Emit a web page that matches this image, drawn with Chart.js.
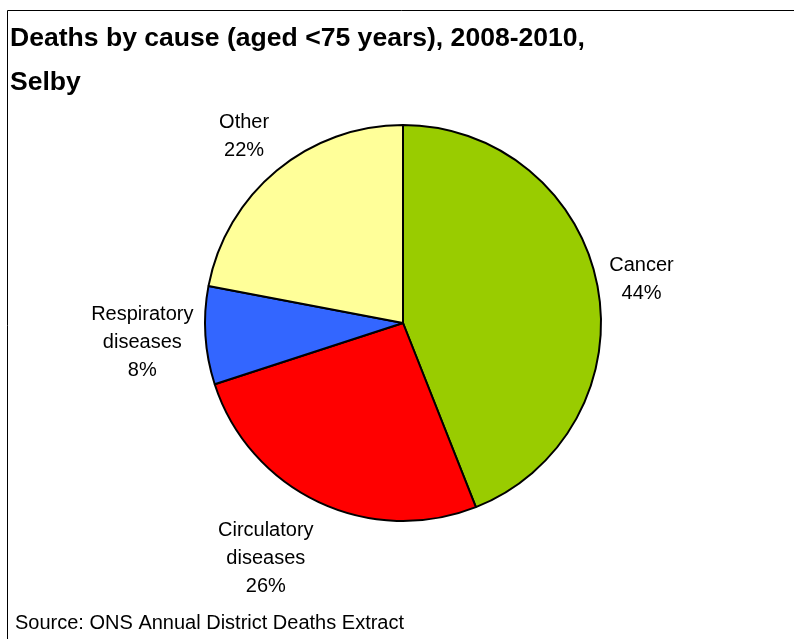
<!DOCTYPE html>
<html>
<head>
<meta charset="utf-8">
<script src="https://cdn.jsdelivr.net/npm/chart.js@4/dist/chart.umd.min.js"></script>
<style>
  html, body { margin: 0; padding: 0; background: #fff; }
  #wrap { position: relative; width: 794px; height: 639px; }
</style>
</head>
<body>
<div id="wrap"><canvas id="chart"></canvas></div>
<script>
// Deaths by cause, people aged under 75, Selby 2008-2010
const categories = ['Cancer', 'Circulatory diseases', 'Respiratory diseases', 'Other'];
const labelLines = [['Cancer'], ['Circulatory', 'diseases'], ['Respiratory', 'diseases'], ['Other']];
const shares = [44, 26, 8, 22];
const sliceColours = ['#99CC00', '#FF0000', '#3366FF', '#FFFF99'];
const titleLines = ['Deaths by cause (aged <75 years), 2008-2010,', 'Selby'];
const sourceNote = 'Source: ONS Annual District Deaths Extract';

const FONT = '"Liberation Sans", Arial, Helvetica, sans-serif';

// Frame, title and source note
const decorations = {
  id: 'decorations',
  beforeDraw(chart) {
    const ctx = chart.ctx;
    ctx.save();
    ctx.fillStyle = '#fff';
    ctx.fillRect(0, 0, chart.width, chart.height);
    ctx.strokeStyle = '#000';
    ctx.lineWidth = 1;
    ctx.beginPath();
    ctx.moveTo(7.5, chart.height + 2);
    ctx.lineTo(7.5, 10.5);
    ctx.lineTo(chart.width + 2, 10.5);
    ctx.stroke();

    ctx.fillStyle = '#000';
    ctx.textAlign = 'left';
    ctx.textBaseline = 'alphabetic';
    // title is set slightly wide: first line runs to x = 585
    ctx.font = 'bold 25px ' + FONT;
    const stretch = 575 / ctx.measureText(titleLines[0]).width;
    ctx.save();
    ctx.translate(10, 0);
    ctx.scale(stretch, 1);
    ctx.fillText(titleLines[0], 0, 46);
    ctx.fillText(titleLines[1], 0, 90);
    ctx.restore();

    ctx.font = '20px ' + FONT;
    ctx.fillText(sourceNote, 15, 629);
    ctx.restore();
  }
};

// Category name and share placed just outside each slice
const outsideLabels = {
  id: 'outsideLabels',
  afterDatasetsDraw(chart) {
    const meta = chart.getDatasetMeta(0);
    const ctx = chart.ctx;
    const lineH = 28;
    ctx.save();
    ctx.font = '20px ' + FONT;
    ctx.fillStyle = '#000';
    ctx.textAlign = 'center';
    ctx.textBaseline = 'middle';
    meta.data.forEach((arc, i) => {
      const p = arc.getProps(['x', 'y', 'startAngle', 'endAngle', 'outerRadius'], true);
      const mid = (p.startAngle + p.endAngle) / 2;
      const dx = Math.cos(mid), dy = Math.sin(mid);
      const r = p.outerRadius + 12;
      const ax = p.x + dx * r, ay = p.y + dy * r;
      const lines = [...labelLines[i], shares[i] + '%'];
      const w = Math.max(...lines.map(l => ctx.measureText(l).width));
      const h = lines.length * lineH;
      const sx = Math.max(-1, Math.min(1, dx * 2.35));
      const sy = Math.max(-1, Math.min(1, dy * 1.3));
      const bx = ax + sx * w / 2, by = ay + sy * h / 2 + 3;
      lines.forEach((l, j) => ctx.fillText(l, bx, by - h / 2 + lineH / 2 + j * lineH));
    });
    ctx.restore();
  }
};

new Chart(document.getElementById('chart'), {
  type: 'pie',
  data: {
    labels: categories,
    datasets: [{
      data: shares,
      backgroundColor: sliceColours,
      borderColor: '#000',
      borderWidth: 2,
      hoverOffset: 0
    }]
  },
  options: {
    responsive: true,
    maintainAspectRatio: false,
    animation: false,
    layout: { padding: { left: 204, top: 124, right: 192, bottom: 117 } },
    plugins: {
      legend: { display: false },
      tooltip: { enabled: false },
      title: { display: false }
    }
  },
  plugins: [decorations, outsideLabels]
});
</script>
</body>
</html>
